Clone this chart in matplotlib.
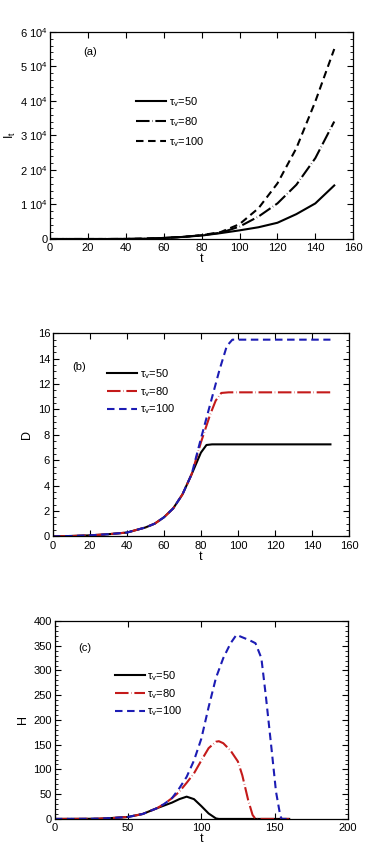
import matplotlib
matplotlib.use("Agg")
import matplotlib.pyplot as plt
from matplotlib.ticker import AutoMinorLocator, FuncFormatter, MultipleLocator

plt.rcParams['font.family'] = ['Liberation Sans', 'DejaVu Sans']
plt.rcParams['mathtext.fontset'] = 'custom'
plt.rcParams['mathtext.rm'] = 'Liberation Sans'
plt.rcParams['mathtext.it'] = 'Liberation Sans:italic'
plt.rcParams['font.size'] = 8

labels = ['τ$_\\mathregular{v}$=50', 'τ$_\\mathregular{v}$=80', 'τ$_\\mathregular{v}$=100']

# panel (a): I_t (units of 1e4)
t_a = [0, 10, 20, 30, 40, 50, 60, 70, 80, 90, 100, 110, 120, 130, 140, 150]
I50 = [0, 0, 0, 0, 0.002, 0.01, 0.03, 0.06, 0.1, 0.17, 0.25, 0.34, 0.47, 0.72, 1.03, 1.55]
I80 = [0, 0, 0, 0, 0.002, 0.01, 0.03, 0.06, 0.11, 0.18, 0.36, 0.65, 1.03, 1.57, 2.34, 3.4]
I100 = [0, 0, 0, 0, 0.002, 0.01, 0.03, 0.06, 0.11, 0.2, 0.43, 0.89, 1.61, 2.63, 3.98, 5.5]

# panel (b): D
t_b50 = [0, 10, 20, 30, 40, 50, 55, 60, 65, 70, 75, 80, 83, 86, 150]
D50 = [0, 0.03, 0.08, 0.17, 0.3, 0.7, 1.0, 1.5, 2.2, 3.3, 4.9, 6.6, 7.2, 7.25, 7.25]
t_b80 = [0, 10, 20, 30, 40, 50, 55, 60, 65, 70, 75, 80, 85, 88, 91, 95, 150]
D80 = [0, 0.03, 0.08, 0.17, 0.3, 0.7, 1.0, 1.5, 2.2, 3.3, 4.9, 7.4, 9.6, 10.7, 11.3, 11.35, 11.35]
t_b100 = [0, 10, 20, 30, 40, 50, 55, 60, 65, 70, 75, 80, 85, 90, 94, 97, 150]
D100 = [0, 0.03, 0.08, 0.17, 0.3, 0.7, 1.0, 1.5, 2.2, 3.3, 4.9, 7.7, 10.4, 13.1, 15.0, 15.5, 15.5]

# panel (c): H
t_c50 = [0, 20, 30, 40, 50, 60, 70, 80, 85, 90, 95, 100, 105, 110, 112, 160]
H50 = [0, 0.2, 0.5, 2, 4, 10, 22, 33, 40, 45, 40, 26, 11, 1, 0, 0]
t_c80 = [0, 20, 30, 40, 50, 60, 70, 75, 80, 85, 90, 95, 100, 105, 110, 112, 115, 120, 125,
         128, 132, 135, 137, 160]
H80 = [0, 0.2, 0.5, 2, 4, 10, 22, 31, 42, 55, 73, 92, 118, 143, 156, 157, 153, 138, 116,
       88, 38, 8, 0, 0]
t_c100 = [0, 20, 30, 40, 50, 60, 70, 75, 80, 85, 90, 95, 100, 105, 110, 115, 120, 124, 128,
          133, 137, 141, 144, 148, 151, 154, 155, 160]
H100 = [0, 0.2, 0.5, 2, 4, 10, 22, 31, 42, 62, 85, 118, 162, 226, 285, 325, 355, 372, 367,
        361, 355, 325, 250, 140, 55, 5, 0, 0]

red = '#c41a1a'
blue = '#1c1cb4'
lw = 1.5
dash80 = (6.5, 1.3, 0.2, 1.3)
dash100 = (3.6, 2.2)

fig = plt.figure(figsize=(3.86, 8.46), dpi=100)


def style(ax, ysub):
    ax.tick_params(which='both', direction='in', top=True, right=True, labelsize=8)
    ax.tick_params(axis='x', pad=3)
    ax.tick_params(axis='y', pad=2)
    ax.tick_params(which='major', length=4)
    ax.tick_params(which='minor', length=2)
    ax.yaxis.set_minor_locator(AutoMinorLocator(ysub))
    for s in ax.spines.values():
        s.set_linewidth(0.9)
    ax.set_xlabel('t', fontsize=9, labelpad=0)


def legend(ax, anchor, spacing):
    ax.legend(loc='upper left', bbox_to_anchor=anchor, frameon=False, handlelength=2.7,
              labelspacing=spacing, handletextpad=0.25, fontsize=8, borderpad=0)


# (a)
ax = fig.add_axes([0.130, 0.7175, 0.785, 0.245])
ax.plot(t_a, [v * 1e4 for v in I50], color='k', lw=lw, label=labels[0])
ax.plot(t_a, [v * 1e4 for v in I80], color='k', lw=lw, dashes=dash80, label=labels[1])
ax.plot(t_a, [v * 1e4 for v in I100], color='k', lw=lw, dashes=dash100, label=labels[2])
ax.set_xlim(0, 160)
ax.set_ylim(0, 6e4)
ax.xaxis.set_major_locator(MultipleLocator(20))
ax.yaxis.set_major_locator(MultipleLocator(1e4))
ax.yaxis.set_major_formatter(FuncFormatter(
    lambda v, p: '0' if v == 0 else '%d 10$^4$' % round(v / 1e4)))
style(ax, 5)
ax.set_ylabel('I$_\\mathregular{t}$', fontsize=9, labelpad=1)
ax.text(0.11, 0.89, '(a)', transform=ax.transAxes, fontsize=8)
legend(ax, (0.265, 0.72), 0.55)

# (b)
ax = fig.add_axes([0.137, 0.366, 0.767, 0.240])
ax.plot(t_b50, D50, color='k', lw=lw, label=labels[0])
ax.plot(t_b80, D80, color=red, lw=lw, dashes=dash80, label=labels[1])
ax.plot(t_b100, D100, color=blue, lw=lw, dashes=dash100, label=labels[2])
ax.set_xlim(0, 160)
ax.set_ylim(0, 16)
ax.xaxis.set_major_locator(MultipleLocator(20))
ax.yaxis.set_major_locator(MultipleLocator(2))
style(ax, 4)
ax.set_ylabel('D', fontsize=9, labelpad=3)
ax.text(0.065, 0.82, '(b)', transform=ax.transAxes, fontsize=8)
legend(ax, (0.165, 0.86), 0.35)

# (c)
ax = fig.add_axes([0.142, 0.032, 0.759, 0.234])
ax.plot(t_c50, H50, color='k', lw=lw, label=labels[0])
ax.plot(t_c80, H80, color=red, lw=lw, dashes=dash80, label=labels[1])
ax.plot(t_c100, H100, color=blue, lw=lw, dashes=dash100, label=labels[2])
ax.set_xlim(0, 200)
ax.set_ylim(0, 400)
ax.xaxis.set_major_locator(MultipleLocator(50))
ax.yaxis.set_major_locator(MultipleLocator(50))
style(ax, 5)
ax.set_ylabel('H', fontsize=9, labelpad=3)
ax.text(0.08, 0.85, '(c)', transform=ax.transAxes, fontsize=8)
legend(ax, (0.185, 0.785), 0.35)

fig.savefig('out.png', dpi=100)
